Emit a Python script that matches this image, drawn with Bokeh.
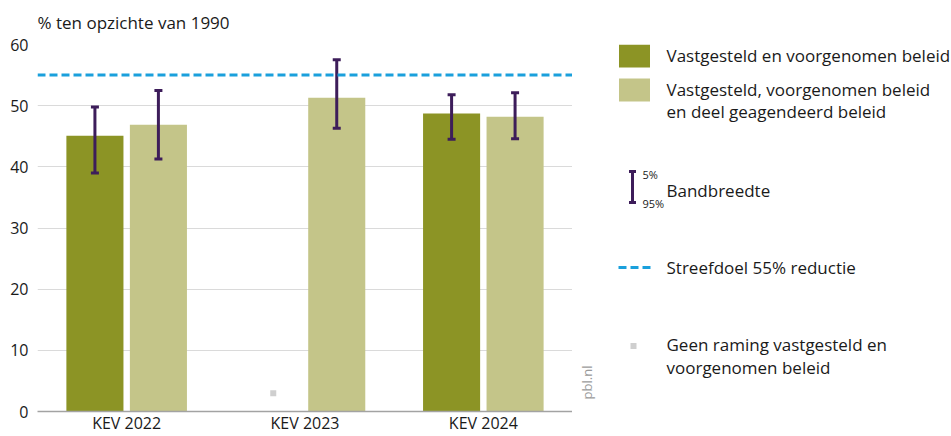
import math
from bokeh.plotting import figure
from bokeh.models import ColumnDataSource, FactorRange, Range1d, Span, FixedTicker
from bokeh.transform import dodge
from bokeh.layouts import row
from bokeh.core.properties import value
from bokeh.embed import file_html
from bokeh.resources import INLINE

# ---- data ----
categories = ["KEV 2022", "KEV 2023", "KEV 2024"]
vastgesteld = [45.1, None, 48.7]            # Vastgesteld en voorgenomen beleid
vastgesteld_low = [39.0, None, 44.5]
vastgesteld_high = [49.8, None, 51.8]
geagendeerd = [46.9, 51.3, 48.2]            # + deel geagendeerd beleid
geagendeerd_low = [41.3, 46.3, 44.6]
geagendeerd_high = [52.5, 57.5, 52.1]
geen_raming_cat = ["KEV 2023"]
geen_raming_y = [3.0]
streefdoel = 55
y_ticks = [0, 10, 20, 30, 40, 50, 60]

FONT = "Open Sans"
DARK = "#8c9425"
LIGHT = "#c4c589"
PURPLE = "#3d1d5a"
BLUE = "#1aa0dc"
GREY_MARK = "#cfcfcf"
TXT = "#1a1a1a"

OFF = 0.178
BW = 0.32

TOP_B = 44
BOT_B = 25
H = 436

idx = [i for i, v in enumerate(vastgesteld) if v is not None]
src_v = ColumnDataSource(dict(
    cat=[categories[i] for i in idx],
    top=[vastgesteld[i] for i in idx],
    low=[vastgesteld_low[i] for i in idx],
    high=[vastgesteld_high[i] for i in idx],
))
src_g = ColumnDataSource(dict(cat=categories, top=geagendeerd,
                              low=geagendeerd_low, high=geagendeerd_high))
src_n = ColumnDataSource(dict(cat=geen_raming_cat, y=geen_raming_y))

p = figure(width=572, height=H, x_range=FactorRange(*categories, range_padding=0),
           y_range=Range1d(0, 60), output_backend="svg", toolbar_location=None,
           min_border_left=37, min_border_right=0, min_border_top=TOP_B, min_border_bottom=BOT_B)
p.x_range.factor_padding = 0
p.outline_line_color = None
p.background_fill_color = "white"
p.title.text = "% ten opzichte van 1990"
p.title.text_font = FONT
p.title.text_font_size = "17px"
p.title.text_font_style = "normal"
p.title.text_color = TXT
p.title.vertical_align = "top"
p.title.standoff = 18
p.title.offset = 0

p.xgrid.grid_line_color = None
p.ygrid.grid_line_color = "#dadada"
p.ygrid.grid_line_width = 1

p.yaxis.ticker = FixedTicker(ticks=y_ticks)
p.yaxis.axis_line_color = None
p.yaxis.major_tick_line_color = None
p.yaxis.major_tick_out = 0
p.yaxis.major_tick_in = 0
p.yaxis.minor_tick_line_color = None
p.yaxis.major_label_text_font = FONT
p.yaxis.major_label_text_font_size = "16px"
p.yaxis.major_label_text_color = TXT
p.yaxis.major_label_standoff = 9

p.xaxis.axis_line_color = "#a3a3a3"
p.xaxis.axis_line_width = 1.5
p.xaxis.major_tick_line_color = None
p.xaxis.major_tick_out = 0
p.xaxis.major_tick_in = 0
p.xaxis.minor_tick_line_color = None
p.xaxis.major_label_text_font = FONT
p.xaxis.major_label_text_font_size = "16px"
p.xaxis.major_label_text_color = TXT
p.xaxis.major_label_standoff = 0

xd = dodge("cat", -OFF, range=p.x_range)
xl = dodge("cat", OFF, range=p.x_range)
p.vbar(x=xd, top="top", bottom=0, width=BW, source=src_v, fill_color=DARK, line_color=None)
p.vbar(x=xl, top="top", bottom=0, width=BW, source=src_g, fill_color=LIGHT, line_color=None)
p.scatter(x=dodge("cat", -OFF, range=p.x_range), y="y", source=src_n, marker="square",
          size=6, fill_color=GREY_MARK, line_color=None)

p.add_layout(Span(location=streefdoel, dimension="width", line_color=BLUE,
                  line_width=3, line_dash="8 4"))

for src, xx in ((src_v, -OFF), (src_g, OFF)):
    xt = dodge("cat", xx, range=p.x_range)
    p.segment(x0=xt, x1=xt, y0="low", y1="high", source=src, line_color=PURPLE, line_width=3)
    p.scatter(x=xt, y="low", source=src, marker="dash", size=8, line_color=PURPLE, line_width=3)
    p.scatter(x=xt, y="high", source=src, marker="dash", size=8, line_color=PURPLE, line_width=3)

# ---- legend panel (frame aligned with main frame; y in page pixels) ----
LW = 951 - 572
L = figure(width=LW, height=H, x_range=Range1d(0, LW), y_range=Range1d(H - BOT_B, TOP_B),
           output_backend="svg", toolbar_location=None,
           min_border_left=0, min_border_right=0, min_border_top=TOP_B, min_border_bottom=BOT_B)
L.axis.visible = False
L.grid.visible = False
L.outline_line_color = None

L.rect(x=[62, 62], y=[55.5, 89.5], width=31, height=23, fill_color=[DARK, LIGHT], line_color=None)
L.segment(x0=[60], x1=[60], y0=[171], y1=[202], line_color=PURPLE, line_width=3)
L.scatter(x=[60, 60], y=[171, 202], marker="dash", size=7, line_color=PURPLE, line_width=3)
L.line(x=[46, 78], y=[267, 267], line_color=BLUE, line_width=3, line_dash="8 4")
L.scatter(x=[61], y=[345.5], marker="square", size=6, fill_color=GREY_MARK, line_color=None)

L.text(x=[94] * 7, y=[55, 89, 111, 190, 267, 344, 367],
       text=["Vastgesteld en voorgenomen beleid", "Vastgesteld, voorgenomen beleid",
             "en deel geagendeerd beleid", "Bandbreedte", "Streefdoel 55% reductie",
             "Geen raming vastgesteld en", "voorgenomen beleid"],
       text_font=value(FONT), text_font_size="17px", text_baseline="middle", text_color=TXT)
L.text(x=[70, 70], y=[174, 203], text=["5%", "95%"], text_font=value(FONT),
       text_font_size="11px", text_baseline="middle", text_color=TXT)
L.text(x=[14], y=[382], text=["pbl.nl"], angle=math.pi / 2, text_font=value(FONT),
       text_font_size="13px", text_baseline="middle", text_align="center", text_color="#9a9a9a")

layout = row(p, L, spacing=0)
open("out.html", "w").write(file_html(layout, INLINE))
